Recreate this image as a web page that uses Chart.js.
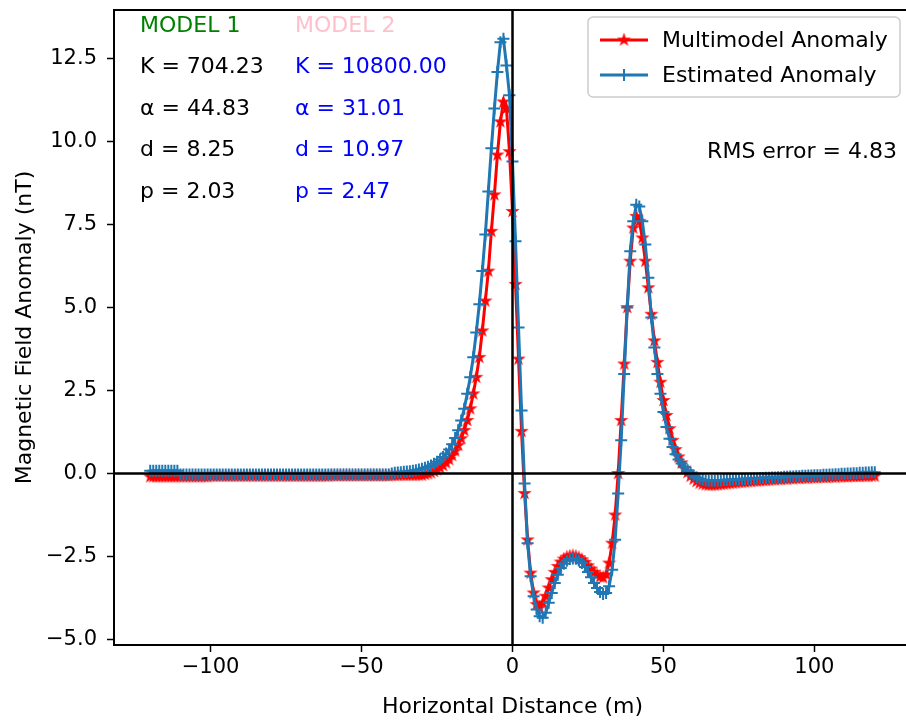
<!DOCTYPE html>
<html>
<head>
<meta charset="utf-8">
<script src="https://cdn.jsdelivr.net/npm/chart.js@4"></script>
<style>
  html, body { margin: 0; padding: 0; background: #fff; overflow: hidden; }
</style>
</head>
<body>
<canvas id="anomalyChart" width="921" height="721"></canvas>
<script>
// sample positions along the profile (m), one every metre
const distance = Array.from({ length: 241 }, (_, i) => i - 120);

// Multimodel anomaly (nT), x = -120 .. 120
const multimodel = [
  -0.10, -0.10, -0.10, -0.10, -0.10, -0.10, -0.10, -0.10, -0.10, -0.10,
  -0.10, -0.10, -0.10, -0.10, -0.10, -0.10, -0.10, -0.10, -0.10, -0.10,
  -0.08, -0.08, -0.08, -0.08, -0.08, -0.08, -0.08, -0.08, -0.08, -0.08,
  -0.08, -0.08, -0.08, -0.08, -0.08, -0.08, -0.08, -0.08, -0.08, -0.08,
  -0.08, -0.08, -0.08, -0.08, -0.08, -0.08, -0.08, -0.08, -0.08, -0.08,
  -0.08, -0.08, -0.08, -0.08, -0.08, -0.08, -0.08, -0.08, -0.08, -0.08,
  -0.07, -0.07, -0.07, -0.07, -0.07, -0.07, -0.07, -0.07, -0.07, -0.07,
  -0.07, -0.07, -0.07, -0.07, -0.07, -0.07, -0.07, -0.07, -0.07, -0.07,
  -0.06, -0.06, -0.06, -0.05, -0.05, -0.05, -0.05, -0.05, -0.05, -0.05,
  -0.05, -0.03, -0.01, 0.02, 0.06, 0.11, 0.17, 0.24, 0.32, 0.42,
  0.54, 0.68, 0.85, 1.05, 1.3, 1.6, 1.95, 2.4, 2.9, 3.5,
  4.3, 5.2, 6.1, 7.3, 8.4, 9.6, 10.6, 11.2, 11.0, 9.7,
  7.9, 5.7, 3.45, 1.27, -0.6, -2.0, -3.0, -3.6, -3.95, -4.05,
  -3.9, -3.7, -3.45, -3.2, -2.98, -2.8, -2.67, -2.58, -2.52, -2.49,
  -2.48, -2.5, -2.54, -2.6, -2.68, -2.78, -2.88, -2.98, -3.06, -3.12,
  -3.14, -3.05, -2.7, -2.1, -1.25, 0.0, 1.6, 3.3, 5.0, 6.4,
  7.4, 7.75, 7.6, 7.1, 6.4, 5.6, 4.8, 4.0, 3.35, 2.75,
  2.2, 1.75, 1.35, 1.0, 0.72, 0.5, 0.32, 0.16, 0.03, -0.08,
  -0.17, -0.24, -0.29, -0.32, -0.34, -0.35, -0.35, -0.35, -0.34, -0.33,
  -0.32, -0.31, -0.3, -0.29, -0.28, -0.27, -0.26, -0.26, -0.25, -0.24,
  -0.23, -0.23, -0.22, -0.21, -0.21, -0.2, -0.19, -0.19, -0.18, -0.18,
  -0.17, -0.17, -0.16, -0.16, -0.15, -0.15, -0.14, -0.14, -0.14, -0.13,
  -0.13, -0.13, -0.12, -0.12, -0.12, -0.11, -0.11, -0.11, -0.1, -0.1,
  -0.1, -0.1, -0.09, -0.09, -0.09, -0.09, -0.08, -0.08, -0.08, -0.08, -0.08
];

// Estimated anomaly (nT), x = -120 .. 120
const estimated = [
  0.08, 0.08, 0.08, 0.08, 0.08, 0.08, 0.08, 0.08, 0.08, 0.08,
  -0.03, -0.03, -0.03, -0.03, -0.03, -0.03, -0.03, -0.03, -0.03, -0.03,
  -0.03, -0.03, -0.03, -0.03, -0.03, -0.03, -0.03, -0.03, -0.03, -0.03,
  -0.03, -0.03, -0.03, -0.03, -0.03, -0.03, -0.03, -0.03, -0.03, -0.03,
  -0.03, -0.03, -0.03, -0.03, -0.03, -0.03, -0.03, -0.03, -0.03, -0.03,
  -0.03, -0.03, -0.03, -0.03, -0.03, -0.03, -0.03, -0.03, -0.03, -0.03,
  -0.03, -0.03, -0.03, -0.03, -0.03, -0.03, -0.03, -0.03, -0.03, -0.03,
  -0.03, -0.03, -0.03, -0.03, -0.03, -0.03, -0.03, -0.03, -0.03, -0.03,
  0.0, 0.02, 0.03, 0.04, 0.05, 0.06, 0.07, 0.08, 0.1, 0.12,
  0.14, 0.17, 0.2, 0.24, 0.29, 0.35, 0.42, 0.5, 0.6, 0.72,
  0.88, 1.07, 1.3, 1.6, 1.95, 2.4, 2.9, 3.5, 4.25, 5.1,
  6.1, 7.2, 8.5, 9.8, 11.0, 12.1, 13.0, 13.1, 12.3, 11.4,
  9.4, 7.0, 4.4, 1.9, -0.3, -2.1, -3.1, -3.7, -4.1, -4.3,
  -4.35, -4.2, -3.9, -3.6, -3.3, -3.05, -2.85, -2.72, -2.63, -2.58,
  -2.56, -2.57, -2.62, -2.7, -2.82, -2.97, -3.13, -3.3, -3.45, -3.57,
  -3.63, -3.6, -3.4, -2.9, -2.0, -0.6, 1.0, 3.0, 5.0, 6.7,
  7.6, 8.1, 8.05, 7.6, 6.9, 5.9, 4.7, 3.8, 3.0, 2.4,
  1.85, 1.4, 1.05, 0.8, 0.58, 0.42, 0.3, 0.19, 0.1, 0.02,
  -0.06, -0.12, -0.16, -0.19, -0.21, -0.22, -0.22, -0.22, -0.21, -0.21,
  -0.2, -0.2, -0.19, -0.19, -0.18, -0.18, -0.17, -0.17, -0.16, -0.16,
  -0.15, -0.15, -0.14, -0.14, -0.13, -0.13, -0.12, -0.12, -0.11, -0.11,
  -0.1, -0.1, -0.09, -0.09, -0.08, -0.08, -0.07, -0.07, -0.06, -0.06,
  -0.05, -0.05, -0.05, -0.04, -0.04, -0.03, -0.03, -0.02, -0.02, -0.01,
  -0.01, 0, 0, 0.01, 0.01, 0.02, 0.02, 0.03, 0.03, 0.04, 0.04
];

const seriesNames = ["Multimodel Anomaly", "Estimated Anomaly"];
const xTicks = [-100, -50, 0, 50, 100];
const yTicks = [-5, -2.5, 0, 2.5, 5, 7.5, 10, 12.5];

const model1 = ["K = 704.23", "\u03b1 = 44.83", "d = 8.25", "p = 2.03"];
const model2 = ["K = 10800.00", "\u03b1 = 31.01", "d = 10.97", "p = 2.47"];
const rmsError = 4.83;

const FONT = "DejaVu Sans";
const RED = "#ff0000";
const BLUE = "#1f77b4";

function makeStar(size, color) {
  const c = document.createElement("canvas");
  c.width = c.height = size;
  const g = c.getContext("2d");
  const r = size / 2, ri = r * 0.382;
  g.beginPath();
  for (let i = 0; i < 10; i++) {
    const ang = -Math.PI / 2 + i * Math.PI / 5;
    const rr = i % 2 ? ri : r;
    g.lineTo(r + rr * Math.cos(ang), r + rr * Math.sin(ang));
  }
  g.closePath();
  g.fillStyle = color;
  g.fill();
  return c;
}
const star = makeStar(15, RED);

const minus = (s) => String(s).replace("-", "\u2212");

// drop the label half-height padding chart.js reserves at the scale ends
const noEdgePadding = (s) => {
  s.paddingTop = 0; s.paddingBottom = 0; s.paddingLeft = 0; s.paddingRight = 0;
};

// the visible window is 906px wide; the right part of the axes is cut off
const rightLimit = 906;

const overlay = {
  id: "overlay",
  afterDatasetsDraw(chart) {
    const { ctx, chartArea: a, scales: { x, y } } = chart;
    ctx.save();
    ctx.strokeStyle = "black";
    ctx.lineWidth = 2.5;
    ctx.beginPath();
    ctx.moveTo(a.left, y.getPixelForValue(0));
    ctx.lineTo(a.right, y.getPixelForValue(0));
    ctx.moveTo(x.getPixelForValue(0), a.top);
    ctx.lineTo(x.getPixelForValue(0), a.bottom);
    ctx.stroke();
    ctx.lineWidth = 2;
    ctx.beginPath();
    ctx.moveTo(a.left, a.top);
    ctx.lineTo(a.right, a.top);
    ctx.stroke();
    ctx.restore();
  },
  afterDraw(chart) {
    const { ctx, chartArea: a } = chart;
    ctx.save();
    ctx.font = "22px '" + FONT + "'";
    ctx.textBaseline = "alphabetic";
    ctx.textAlign = "left";

    const c1 = a.left + 26, c2 = a.left + 181;
    ctx.fillStyle = "green";
    ctx.fillText("MODEL 1", c1, a.top + 22);
    ctx.fillStyle = "pink";
    ctx.fillText("MODEL 2", c2, a.top + 22);
    model1.forEach((t, i) => {
      ctx.fillStyle = "black";
      ctx.fillText(t, c1, a.top + 63 + i * 41.5);
      ctx.fillStyle = "blue";
      ctx.fillText(model2[i], c2, a.top + 63 + i * 41.5);
    });

    ctx.fillStyle = "black";
    ctx.textAlign = "right";
    ctx.fillText("RMS error = " + rmsError.toFixed(2), rightLimit - 9, a.top + 148);

    // legend box
    const lx = 588, ly = 17, lw = 312, lh = 80;
    ctx.beginPath();
    ctx.roundRect(lx, ly, lw, lh, 5);
    ctx.fillStyle = "rgba(255,255,255,0.8)";
    ctx.fill();
    ctx.strokeStyle = "#cccccc";
    ctx.lineWidth = 1.5;
    ctx.stroke();

    const rows = [
      { y: ly + 23, color: RED, marker: "star" },
      { y: ly + 58, color: BLUE, marker: "cross" }
    ];
    ctx.textAlign = "left";
    ctx.textBaseline = "middle";
    rows.forEach((r, i) => {
      ctx.strokeStyle = r.color;
      ctx.lineWidth = 3;
      ctx.beginPath();
      ctx.moveTo(lx + 12, r.y);
      ctx.lineTo(lx + 60, r.y);
      ctx.stroke();
      if (r.marker === "star") {
        ctx.drawImage(star, lx + 36 - star.width / 2, r.y - star.height / 2);
      } else {
        ctx.lineWidth = 2;
        ctx.beginPath();
        ctx.moveTo(lx + 36, r.y - 6);
        ctx.lineTo(lx + 36, r.y + 6);
        ctx.moveTo(lx + 30, r.y);
        ctx.lineTo(lx + 42, r.y);
        ctx.stroke();
      }
      ctx.fillStyle = "black";
      ctx.fillText(seriesNames[i], lx + 74, r.y + 1);
    });
    ctx.restore();
  }
};

const chart = new Chart(document.querySelector("#anomalyChart"), {
  type: "line",
  data: {
    datasets: [
      {
        label: seriesNames[0],
        data: distance.map((d, i) => ({ x: d, y: multimodel[i] })),
        borderColor: RED,
        backgroundColor: RED,
        borderWidth: 3,
        pointStyle: star,
        pointRadius: 7,
        tension: 0,
        order: 1
      },
      {
        label: seriesNames[1],
        data: distance.map((d, i) => ({ x: d, y: estimated[i] })),
        borderColor: BLUE,
        backgroundColor: BLUE,
        borderWidth: 3,
        pointStyle: "cross",
        pointRadius: 6,
        pointBorderWidth: 2,
        tension: 0,
        order: 0
      }
    ]
  },
  options: {
    responsive: false,
    animation: false,
    events: [],
    layout: { padding: { top: 10, left: 0, right: 0, bottom: 0 } },
    plugins: {
      legend: { display: false },
      tooltip: { enabled: false }
    },
    scales: {
      x: {
        type: "linear",
        min: -132,
        max: 132,
        afterBuildTicks: (s) => { s.ticks = xTicks.map((v) => ({ value: v })); },
        afterFit: (s) => { s.height = 76; noEdgePadding(s); },
        ticks: {
          color: "black",
          font: { family: FONT, size: 21 },
          padding: 3,
          callback: (v) => minus(v)
        },
        grid: { display: true, drawOnChartArea: false, drawTicks: true, tickLength: 7, color: "black", tickWidth: 1.5 },
        border: { display: true, color: "black", width: 2 },
        title: {
          display: true,
          text: "Horizontal Distance (m)",
          color: "black",
          font: { family: FONT, size: 22 },
          padding: { top: 0, bottom: 1 }
        }
      },
      y: {
        min: -5.17,
        max: 13.97,
        afterBuildTicks: (s) => { s.ticks = yTicks.map((v) => ({ value: v })); },
        afterFit: (s) => { s.width = 114; noEdgePadding(s); },
        ticks: {
          color: "black",
          font: { family: FONT, size: 21 },
          padding: 10,
          callback: (v) => minus(v.toFixed(1))
        },
        grid: { display: true, drawOnChartArea: false, drawTicks: true, tickLength: 7, color: "black", tickWidth: 1.5 },
        border: { display: true, color: "black", width: 2 },
        title: {
          display: true,
          text: "Magnetic Field Anomaly (nT)",
          color: "black",
          font: { family: FONT, size: 22 },
          padding: { top: 12, bottom: 0 }
        }
      }
    }
  },
  plugins: [overlay]
});
</script>
</body>
</html>
